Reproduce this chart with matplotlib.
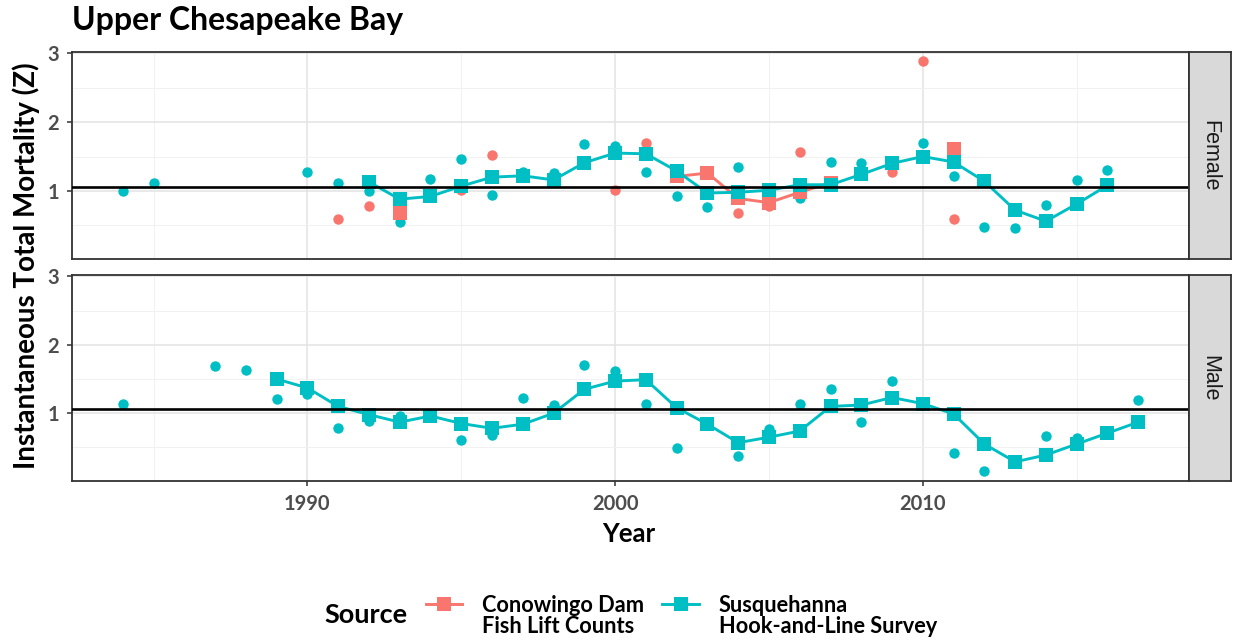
import matplotlib
matplotlib.use("Agg")
import matplotlib.pyplot as plt
from matplotlib.lines import Line2D

plt.rcParams['font.family'] = ['Lato', 'DejaVu Sans']

RED = '#F8766D'
TEAL = '#00BFC4'
REF_Z = 1.06

# ---- Female panel ----
# annual estimates (circles)
f_hl_pt_years = [1984, 1985, 1990, 1991, 1992, 1993, 1994, 1995, 1996, 1997, 1998, 1999,
                 2000, 2001, 2002, 2003, 2004, 2005, 2006, 2007, 2008, 2010, 2011,
                 2012, 2013, 2014, 2015, 2016]
f_hl_pt_z = [1.00, 1.11, 1.28, 1.12, 1.00, 0.55, 1.17, 1.47, 0.94, 1.28, 1.26, 1.68,
             1.66, 1.28, 0.93, 0.76, 1.35, 1.00, 0.89, 1.42, 1.40, 1.70, 1.22,
             0.47, 0.46, 0.79, 1.16, 1.30]
f_fl_pt_years = [1991, 1992, 1995, 1996, 2000, 2001, 2004, 2005, 2006, 2009, 2010, 2011]
f_fl_pt_z = [0.59, 0.78, 1.02, 1.52, 1.02, 1.70, 0.68, 0.78, 1.56, 1.28, 2.89, 0.59]

# smoothed estimates (squares + line)
f_hl_years = [1992, 1993, 1994, 1995, 1996, 1997, 1998, 1999, 2000, 2001, 2002, 2003,
              2004, 2005, 2006, 2007, 2008, 2009, 2010, 2011, 2012, 2013, 2014, 2015, 2016]
f_hl_z = [1.13, 0.88, 0.92, 1.07, 1.20, 1.22, 1.16, 1.41, 1.55, 1.54, 1.29, 0.97,
          0.98, 1.01, 1.09, 1.09, 1.24, 1.40, 1.50, 1.42, 1.14, 0.72, 0.56, 0.81, 1.08]
f_fl_years = [1993, None, 2002, 2003, 2004, 2005, 2006, 2007, None, 2011]
f_fl_z = [0.68, None, 1.21, 1.26, 0.89, 0.83, 0.98, 1.12, None, 1.61]

# ---- Male panel ----
m_hl_pt_years = [1984, 1987, 1988, 1989, 1990, 1991, 1992, 1993, 1995, 1996, 1997, 1998,
                 1999, 2000, 2001, 2002, 2004, 2005, 2006, 2007, 2008, 2009, 2011,
                 2012, 2013, 2014, 2015, 2016, 2017]
m_hl_pt_z = [1.14, 1.69, 1.63, 1.21, 1.28, 0.79, 0.89, 0.96, 0.61, 0.68, 1.23, 1.12,
             1.70, 1.62, 1.14, 0.49, 0.37, 0.77, 1.13, 1.36, 0.87, 1.47, 0.42,
             0.16, 0.30, 0.67, 0.64, 0.73, 1.20]
m_hl_years = [1989, 1990, 1991, 1992, 1993, 1994, 1995, 1996, 1997, 1998, 1999, 2000,
              2001, 2002, 2003, 2004, 2005, 2006, 2007, 2008, 2009, 2010, 2011,
              2012, 2013, 2014, 2015, 2016, 2017]
m_hl_z = [1.50, 1.37, 1.10, 0.98, 0.87, 0.96, 0.85, 0.78, 0.84, 1.00, 1.35, 1.47,
          1.49, 1.08, 0.84, 0.57, 0.65, 0.74, 1.10, 1.12, 1.23, 1.14, 0.99,
          0.55, 0.29, 0.39, 0.55, 0.71, 0.87]

sources = ['Conowingo Dam\nFish Lift Counts', 'Susquehanna\nHook-and-Line Survey']

panels = [
    ('Female', [(f_fl_pt_years, f_fl_pt_z, RED), (f_hl_pt_years, f_hl_pt_z, TEAL)],
               [(f_fl_years, f_fl_z, RED), (f_hl_years, f_hl_z, TEAL)]),
    ('Male', [(m_hl_pt_years, m_hl_pt_z, TEAL)],
             [(m_hl_years, m_hl_z, TEAL)]),
]

W, H = 1236, 640
fig = plt.figure(figsize=(W / 100, H / 100), dpi=100)

def px(x0, y0, x1, y1):
    return [x0 / W, 1 - y1 / H, (x1 - x0) / W, (y1 - y0) / H]

def fy(y):
    return 1 - y / H

boxes = [(72, 52, 1189, 259), (72, 275, 1189, 481)]
LW, MS_C, MS_S = 2.1, 7.5, 10

for i, (name, pts, lines) in enumerate(panels):
    x0, y0, x1, y1 = boxes[i]
    ax = fig.add_axes(px(x0, y0, x1, y1))
    ax.set_xlim(1982.35, 2018.65)
    ax.set_ylim(0.01, 3.02)
    ax.set_yticks([1, 2, 3])
    ax.set_yticks([0.5, 1.5, 2.5], minor=True)
    ax.set_xticks([1990, 2000, 2010])
    ax.set_xticks([1985, 1995, 2005, 2015], minor=True)
    ax.grid(True, which='major', color='#E3E3E3', lw=1.1)
    ax.grid(True, which='minor', color='#F1F1F1', lw=0.7)
    ax.set_axisbelow(True)
    for s in ax.spines.values():
        s.set_color('#333333')
        s.set_linewidth(1.3)
    ax.tick_params(which='minor', length=0)
    ax.tick_params(which='major', length=3.6, color='#333333', width=1.1,
                   labelsize=14.5, labelcolor='#4D4D4D', pad=5.5)
    for lab in ax.get_yticklabels():
        lab.set_fontweight('bold')
    if i == 0:
        ax.tick_params(axis='x', labelbottom=False, length=0)
    else:
        for lab in ax.get_xticklabels():
            lab.set_fontweight('bold')

    for yrs, z, c in pts:
        ax.plot(yrs, z, 'o', color=c, ms=MS_C, mew=0, zorder=3)
    for yrs, z, c in lines:
        xs = [float('nan') if v is None else v for v in yrs]
        zs = [float('nan') if v is None else v for v in z]
        ax.plot(xs, zs, '-', color=c, lw=LW, marker='s', ms=MS_S, mew=0, zorder=4)
    ax.axhline(REF_Z, color='black', lw=1.9, zorder=5)

    sax = fig.add_axes(px(1189, y0, 1231, y1))
    sax.set_facecolor('#D9D9D9')
    sax.set_xticks([])
    sax.set_yticks([])
    for s in sax.spines.values():
        s.set_color('#333333')
        s.set_linewidth(1.3)
    sax.text(0.5, 0.5, name, rotation=-90, ha='center', va='center',
             fontsize=15.5, color='#1A1A1A', transform=sax.transAxes,
             family=['Liberation Sans', 'DejaVu Sans'])

fig.text(72 / W, fy(30), 'Upper Chesapeake Bay', fontsize=23, fontweight='bold',
         ha='left', va='baseline')
fig.text(26 / W, fy(266), 'Instantaneous Total Mortality (Z)', rotation=90,
         fontsize=20, fontweight='bold', ha='center', va='center')
fig.text(629 / W, fy(534), 'Year', fontsize=18.5, fontweight='bold',
         ha='center', va='center')

# legend (bottom)
fig.text(324 / W, fy(615), 'Source', fontsize=19.5, fontweight='bold',
         ha='left', va='center')
key_x = [(426, 462), (662, 699)]
for (kx0, kx1), c, lab in zip(key_x, [RED, TEAL], sources):
    fig.add_artist(Line2D([kx0 / W, kx1 / W], [fy(604), fy(604)], color=c, lw=LW,
                          transform=fig.transFigure))
    fig.add_artist(Line2D([(kx0 + kx1) / 2 / W], [fy(604)], color=c, marker='s',
                          ms=MS_S, mew=0, transform=fig.transFigure))
    fig.text((kx1 + 20) / W, fy(616), lab, fontsize=15.7, fontweight='bold',
             ha='left', va='center', linespacing=1.05)

fig.savefig('out.png', dpi=100)
